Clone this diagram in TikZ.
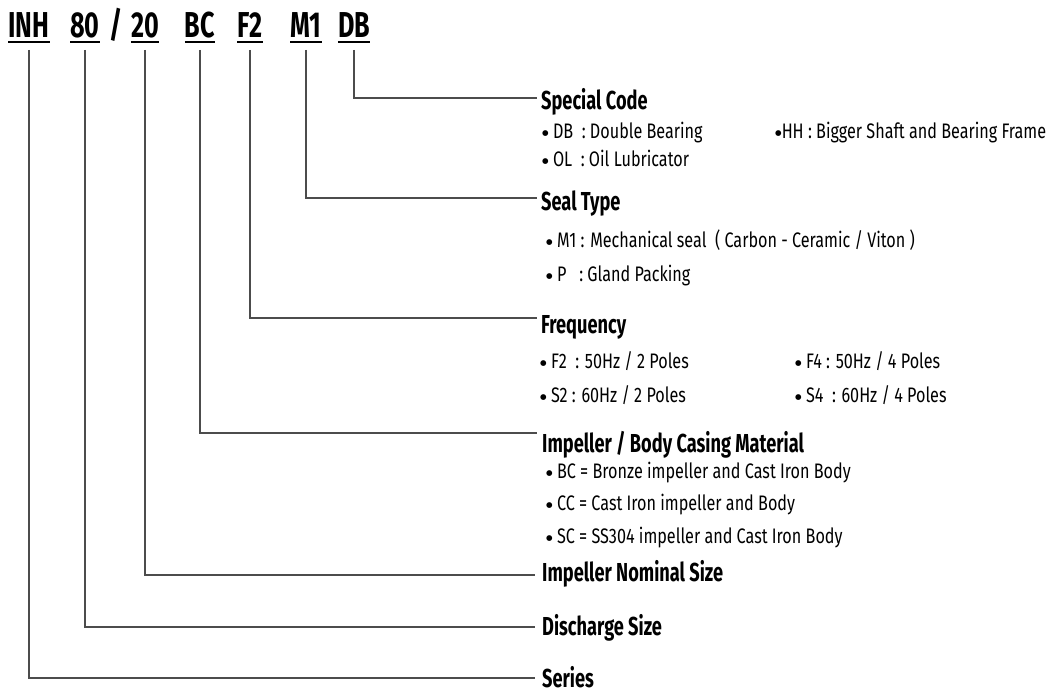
\documentclass[tikz,border=0pt]{standalone}
\usepackage{fontspec}
\setmainfont[FakeStretch=0.7]{Fira Sans}
\newfontfamily\itemfont[FakeStretch=0.77]{Fira Sans}
\newfontfamily\symfont{DejaVu Sans}
\newcommand{\bul}{\raisebox{2.2pt}{\symfont\fontsize{7.5}{7.5}\selectfont ●}}
\begin{document}
\begin{tikzpicture}[x=1pt,y=-1pt,
 code/.style={anchor=base,inner sep=0pt,font=\fontsize{36}{36}\selectfont\bfseries},
 head/.style={anchor=base west,inner sep=0pt,font=\fontsize{26}{26}\selectfont\bfseries},
 item/.style={anchor=base west,inner sep=0pt,font=\itemfont\fontsize{21}{22}\selectfont},
 conn/.style={draw=black!70,line width=1.2pt},
 uline/.style={line width=2pt}]
\useasboundingbox (0,0) rectangle (1050,693);
% codes
\node[code] (inh) at (29,38) {INH};
\node[code] (c80) at (85,38) {80};
\node[code] (sl) at (116,38) {/};
\node[code] (c20) at (145,38) {20};
\node[code] (bc) at (200,38) {BC};
\node[code] (f2) at (250,38) {F2};
\node[code] (m1) at (306,38) {M1};
\node[code] (db) at (354,38) {DB};
\foreach \n in {inh,c80,c20,bc,f2,m1,db}
  \draw[uline] ([yshift=-4pt]\n.base west) -- ([yshift=-4pt]\n.base east);
% headings
\node[head] (hsc) at (541,110) {Special Code};
\node[head] (hst) at (541,210) {Seal Type};
\node[head] (hfr) at (541,333) {Frequency};
\node[head] (him) at (542,452) {Impeller / Body Casing Material};
\node[head] (hns) at (542,581) {Impeller Nominal Size};
\node[head] (hds) at (542,635) {Discharge Size};
\node[head] (hse) at (542,687) {Series};
% items
\node[item] (idb) at (542,138) {\bul\ DB\ \ : Double Bearing};
\node[item] (iol) at (542,166) {\bul\ OL\ \ : Oil Lubricator};
\node[item] (ihh) at (775,138) {\bul HH : Bigger Shaft and Bearing Frame};
\node[item] (im1) at (546,247) {\bul\ M1 : Mechanical seal\ \ ( Carbon - Ceramic / Viton )};
\node[item] (ip) at (546,281) {\bul\ P\ \ \ : Gland Packing};
\node[item] (if2) at (540,368) {\bul\ F2\ \ : 50Hz / 2 Poles};
\node[item] (is2) at (540,402) {\bul\ S2 : 60Hz / 2 Poles};
\node[item] (if4) at (795,368) {\bul\ F4 : 50Hz / 4 Poles};
\node[item] (is4) at (795,402) {\bul\ S4\ \ : 60Hz / 4 Poles};
\node[item] (ibc) at (546,478) {\bul\ BC = Bronze impeller and Cast Iron Body};
\node[item] (icc) at (546,510) {\bul\ CC = Cast Iron impeller and Body};
\node[item] (isc) at (546,543) {\bul\ SC = SS304 impeller and Cast Iron Body};
% line ends
\coordinate (esc) at (537,98);
\coordinate (est) at (537,198);
\coordinate (efr) at (537,318);
\coordinate (eim) at (537,433);
\coordinate (ens) at (535,575);
\coordinate (eds) at (535,627);
\coordinate (ese) at (535,678);
% connectors
\draw[conn] ([yshift=-12pt]db.base) |- (esc);
\draw[conn] ([yshift=-12pt]m1.base) |- (est);
\draw[conn] ([yshift=-12pt]f2.base) |- (efr);
\draw[conn] ([yshift=-12pt]bc.base) |- (eim);
\draw[conn] ([yshift=-12pt]c20.base) |- (ens);
\draw[conn] ([yshift=-12pt]c80.base) |- (eds);
\draw[conn] ([yshift=-12pt]inh.base) |- (ese);
\end{tikzpicture}
\end{document}
